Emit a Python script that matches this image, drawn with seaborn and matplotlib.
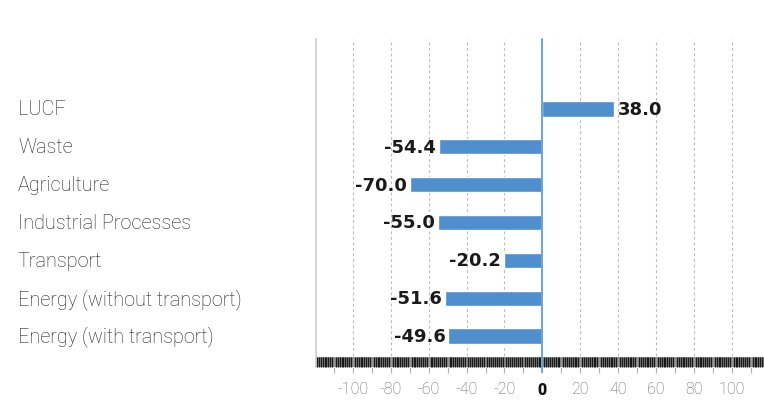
import numpy as np
import pandas as pd
import matplotlib
matplotlib.use('Agg')
import matplotlib.pyplot as plt
import matplotlib.transforms as mtransforms
from matplotlib.patches import Rectangle
import seaborn as sns

# Chart data
categories = ["LUCF", "Waste", "Agriculture", "Industrial Processes", "Transport",
              "Energy (without transport)", "Energy (with transport)"]
values = [38.0, -54.4, -70.0, -55.0, -20.2, -51.6, -49.6]
tick_values = [-100, -80, -60, -40, -20, 0, 20, 40, 60, 80, 100]

df = pd.DataFrame({"Sector": categories, "Change": values})

sns.set_style("white")
plt.rcParams['font.family'] = ['Roboto', 'DejaVu Sans']

fig = plt.figure(figsize=(7.64, 4.06), dpi=100)
W, H = 764, 406
ax = fig.add_axes([316 / W, (H - 368) / H, (W - 316) / W, (368 - 40) / H])

BAR = "#4f8fcd"
sns.barplot(data=df, x="Change", y="Sector", orient="h", color=BAR,
            saturation=1, width=0.4, ax=ax)

ax.set_xlim(-119.5, 117)
ax.set_ylim(6.82, -1.85)

# dashed vertical grid
for t in tick_values:
    if t != 0:
        ax.axvline(t, color="#bbbbbb", lw=0.8, ls=(0, (2.5, 2.5)), zorder=0)

# zero line
ax.axvline(0, ymin=-0.016, ymax=1, color="#6aa3dc", lw=1.4, zorder=4, clip_on=False)

# spines
for s in ["top", "right", "bottom"]:
    ax.spines[s].set_visible(False)
ax.spines["left"].set_color("#cccccc")
ax.spines["left"].set_linewidth(1.2)

# grey strip behind the dense tick band (axis is drawn at zorder 0.5)
band_h = 10 / (368 - 40)
ax.add_patch(Rectangle((0, 0), 1, band_h, transform=ax.transAxes,
                       facecolor="#9a9a9a", edgecolor="none", zorder=0.2))

# ticks: dense minor band + major ticks every 10, labels every 20
major = np.arange(-110, 111, 10)
ax.set_xticks(major)
ax.set_xticklabels([str(t) if t in tick_values else "" for t in major])
ax.set_xticks(np.arange(-119, 118, 1), minor=True)
ax.tick_params(axis="x", which="minor", direction="in", length=7.2, width=1.0,
               color="#1a1a1a", bottom=True)
ax.tick_params(axis="x", which="major", direction="out", length=4, width=0.8,
               color="#b0b0b0", labelsize=11.5, labelcolor="#666666", pad=6, bottom=True)
for lab in ax.get_xticklabels():
    lab.set_fontweight("light")
    if lab.get_text() == "0":
        lab.set_color("#111111")
        lab.set_fontweight("black")

ax.set_yticks([])
ax.set_xlabel("")
ax.set_ylabel("")

# category labels on the left of the figure
trans = mtransforms.blended_transform_factory(fig.transFigure, ax.transData)
for i, c in enumerate(categories):
    ax.text(18 / W, i, c, transform=trans, ha="left", va="center",
            fontsize=14.3, fontweight="light", color="#222222")

# value labels
for i, v in enumerate(values):
    off = 1.6 if v > 0 else -1.6
    ax.text(v + off, i, f"{v:.1f}", ha="left" if v > 0 else "right", va="center",
            fontsize=13, fontweight="bold", color="#1a1a1a",
            family=["DejaVu Sans"])

fig.savefig("out.png", dpi=100)
